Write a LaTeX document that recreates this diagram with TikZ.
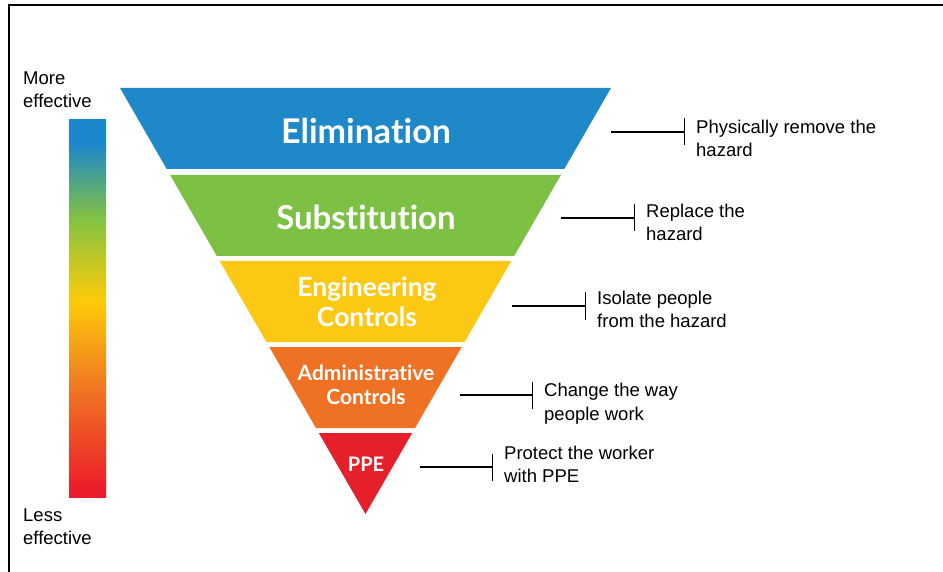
\documentclass[tikz,border=0pt]{standalone}
\usepackage{fontspec}
\setmainfont{Liberation Sans}
\newfontfamily\bandfont{Lato}[Ligatures=NoCommon]
\usetikzlibrary{arrows.meta}

\definecolor{elimblue}{HTML}{1F88C9}
\definecolor{substgreen}{HTML}{7CC143}
\definecolor{engyellow}{HTML}{FBC914}
\definecolor{adminorange}{HTML}{EF7123}
\definecolor{ppered}{HTML}{E5202A}
\definecolor{barblue}{HTML}{1B86CE}
\definecolor{bargreen}{HTML}{82C243}
\definecolor{baryellow}{HTML}{FDCB0A}
\definecolor{barorange}{HTML}{F07A22}
\definecolor{barred}{HTML}{EC1C2A}

\pgfdeclareverticalshading{effectbar}{100bp}{color(0bp)=(barred); color(26bp)=(barred); color(40bp)=(barorange); color(51bp)=(baryellow); color(62bp)=(bargreen); color(72bp)=(barblue); color(100bp)=(barblue)}

\tikzset{bandtext/.style={text=white, font=\bandfont\bfseries, align=center, inner sep=0pt}}
\tikzset{note/.style={font=\fontsize{18.5}{23.5}\selectfont, align=left, anchor=west, inner xsep=11pt, inner ysep=0pt}}
\tikzset{tickline/.style={line width=1.4pt, -{Bar[width=27pt,line width=1.4pt]}}}

\begin{document}
\begin{tikzpicture}[x=1pt,y=-1pt]
\useasboundingbox (0,0) rectangle (943,572);
% frame
\draw[line width=1.6pt] (9,572) -- (9,5) -- (943,5);

% effectiveness bar
\shade[shading=effectbar] (69,120) rectangle (106,497);
\node[note,inner xsep=0pt] (more) at (23,89.5) {More\\effective};
\node[note,inner xsep=0pt] (less) at (23,526.5) {Less\\effective};

% the inverted pyramid
\fill[elimblue] (120,88) -- (611,88) -- (564.3,169) -- (166.7,169) -- cycle;
\fill[substgreen] (170.1,175) -- (560.9,175) -- (514.2,256) -- (216.8,256) -- cycle;
\fill[engyellow] (219.7,261) -- (511.3,261) -- (464.6,342) -- (266.4,342) -- cycle;
\fill[adminorange] (269.3,347) -- (461.7,347) -- (415.1,428) -- (315.9,428) -- cycle;
\fill[ppered] (318.8,433) -- (412.2,433) -- (365.5,514) -- cycle;

\node[bandtext,font=\bandfont\bfseries\fontsize{34}{38}\selectfont] (elim) at (366,131) {Elimination};
\node[bandtext,font=\bandfont\bfseries\fontsize{33}{38}\selectfont] (subst) at (366,217) {Substitution};
\node[bandtext,font=\bandfont\bfseries\fontsize{26.5}{30}\selectfont] (eng) at (367,302) {Engineering\\Controls};
\node[bandtext,font=\bandfont\bfseries\fontsize{21}{24}\selectfont] (admin) at (366,385) {Administrative\\Controls};
\node[bandtext,font=\bandfont\bfseries\fontsize{20}{24}\selectfont] (ppe) at (366,464) {PPE};

% notes
\coordinate (elimA) at (611,132);
\coordinate (substA) at (561,218);
\coordinate (engA) at (512,306);
\coordinate (adminA) at (460,395);
\coordinate (ppeA) at (420,467);

\node[note] (elimnote) at (685,138.5) {Physically remove the\\hazard};
\node[note] (substnote) at (635,222.5) {Replace the\\hazard};
\node[note] (engnote) at (586,309.5) {Isolate people\\from the hazard};
\node[note] (adminnote) at (533,403.5) {Change the way\\people work};
\node[note] (ppenote) at (493,464.5) {Protect the worker\\with PPE};

\draw[tickline] (elimA) -- (elimA -| elimnote.west);
\draw[tickline] (substA) -- (substA -| substnote.west);
\draw[tickline] (engA) -- (engA -| engnote.west);
\draw[tickline] (adminA) -- (adminA -| adminnote.west);
\draw[tickline] (ppeA) -- (ppeA -| ppenote.west);
\end{tikzpicture}
\end{document}
